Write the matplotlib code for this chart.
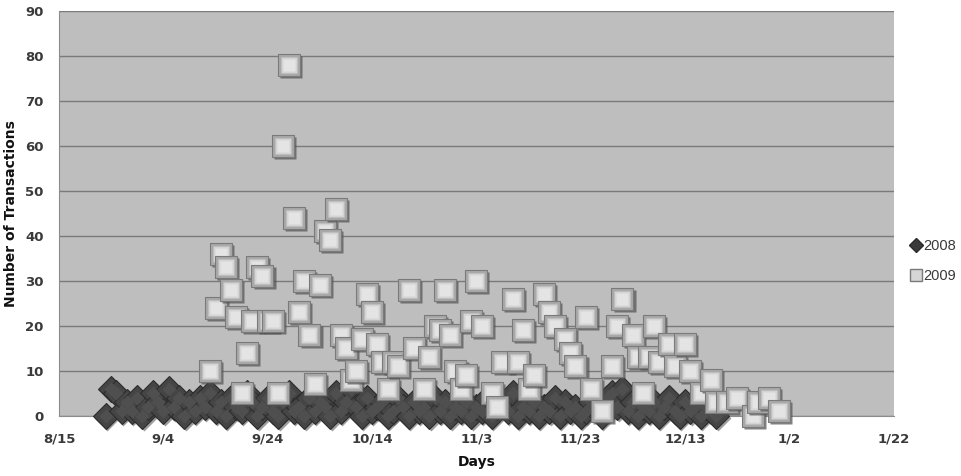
import numpy as np
import pandas as pd
import matplotlib
matplotlib.use('Agg')
import matplotlib.pyplot as plt
from matplotlib.lines import Line2D
from matplotlib.transforms import offset_copy

# 2008: one count per day, starting 8/24
start_2008 = '2009-08-24'
aug_2008 = [0, 6, 5, 1, 3, 1, 4, 0]
sep_2008 = [2, 5, 3, 1, 6, 2, 4, 0, 3, 1, 4, 2, 5, 1, 3, 0, 4, 2, 1, 5,
            3, 0, 2, 4, 1, 0, 3, 5, 1, 2]
oct_2008 = [0, 4, 1, 3, 2, 0, 5, 1, 3, 6, 2, 0, 4, 1, 2, 3, 0, 1, 4, 2,
            0, 3, 1, 2, 0, 4, 1, 3, 0, 2, 1]
nov_2008 = [3, 0, 2, 1, 4, 0, 2, 3, 1, 5, 0, 2, 1, 3, 0, 2, 1, 4, 0, 3,
            1, 2, 0, 1, 3, 2, 0, 4, 5, 2]
dec_2008 = [6, 1, 3, 0, 2, 1, 3, 0, 2, 4, 1, 0, 3, 1, 2, 0, 2, 1, 0]

# 2009: light squares
days_2009 = ['9/13', '9/14', '9/15', '9/16', '9/17', '9/18', '9/19', '9/20', '9/21', '9/22',
             '9/23', '9/24', '9/25', '9/26', '9/27', '9/28', '9/29', '9/30', '10/1', '10/2',
             '10/3', '10/4', '10/5', '10/6', '10/7', '10/8', '10/9', '10/10', '10/11', '10/12',
             '10/13', '10/14', '10/15', '10/16', '10/17', '10/18', '10/19', '10/21', '10/22', '10/24',
             '10/25', '10/26', '10/27', '10/28', '10/29', '10/30', '10/31', '11/1', '11/2', '11/3',
             '11/4', '11/6', '11/7', '11/8', '11/10', '11/11', '11/12', '11/13', '11/14', '11/16',
             '11/17', '11/18', '11/20', '11/21', '11/22', '11/24', '11/25', '11/27', '11/29', '11/30',
             '12/1', '12/3', '12/4', '12/5', '12/6', '12/7', '12/8', '12/10', '12/11', '12/13',
             '12/14', '12/16', '12/18', '12/19', '12/21', '12/23', '12/26', '12/27', '12/29', '12/31']
vals_2009 = [10, 24, 36, 33, 28, 22, 5, 14, 21, 33,
             31, 21, 21, 5, 60, 78, 44, 23, 30, 18,
             7, 29, 41, 39, 46, 18, 15, 8, 10, 17,
             27, 23, 16, 12, 6, 12, 11, 28, 15, 6,
             13, 20, 19, 28, 18, 10, 6, 9, 21, 30,
             20, 5, 2, 12, 26, 12, 19, 6, 9, 27,
             23, 20, 17, 14, 11, 22, 6, 1, 11, 20,
             26, 18, 13, 5, 13, 20, 12, 16, 11, 16,
             10, 5, 8, 3, 3, 4, 0, 3, 4, 1]

tick_start = '2009-08-15'
tick_end = '2010-01-22'
yticks = list(range(0, 91, 10))

vals_2008 = aug_2008 + sep_2008 + oct_2008 + nov_2008 + dec_2008
x_2008 = pd.date_range(start_2008, periods=len(vals_2008), freq='D')
x_2009 = pd.to_datetime(['2009/' + d for d in days_2009], format='%Y/%m/%d')
xticks = pd.date_range(tick_start, tick_end, freq='20D')
xlabels = [f'{d.month}/{d.day}' for d in xticks]

plt.rcParams['font.family'] = ['DejaVu Sans']
fig = plt.figure(figsize=(9.61, 4.76), dpi=100)
ax = fig.add_axes([0.0614, 0.1267, 0.8686, 0.8503])
ax.set_facecolor('#bebebe')
fig.patch.set_facecolor('white')

text_col = '#3a3a3a'

# 2008 diamonds, with a soft shadow
shadow_d = offset_copy(ax.transData, fig=fig, x=1.0, y=-1.5, units='points')
ax.plot(x_2008, vals_2008, 'D', ms=13, mfc='#5e5e5e', mec='none', alpha=0.6,
        transform=shadow_d, zorder=3, clip_on=False)
ax.plot(x_2008, vals_2008, 'D', ms=13, mfc='#454545', mec='#2c2c2c', mew=0.8,
        zorder=3.5, clip_on=False)
ax.plot(x_2008, vals_2008, 'D', ms=7, mfc='#4f4f4f', mec='none',
        zorder=3.6, clip_on=False)

# 2009 squares drawn one by one so each bevel stacks properly
shadow_s = offset_copy(ax.transData, fig=fig, x=1.5, y=-1.5, units='points')
for i, (xd, v) in enumerate(zip(x_2009, vals_2009)):
    z = 5 + i * 0.01
    ax.plot([xd], [v], 's', ms=16, mfc='#4f4f4f', mec='none', alpha=0.7,
            transform=shadow_s, zorder=z, clip_on=False)
    ax.plot([xd], [v], 's', ms=16, mfc='#a9a9a9', mec='#7a7a7a', mew=0.8,
            zorder=z + 0.002, clip_on=False)
    ax.plot([xd], [v], 's', ms=12, mfc='#d4d4d4', mec='none',
            zorder=z + 0.004, clip_on=False)
    ax.plot([xd], [v], 's', ms=9, mfc='#e4e4e4', mec='none',
            zorder=z + 0.006, clip_on=False)

ax.set_ylim(0, 90)
ax.set_yticks(yticks)
ax.set_xlim(xticks[0], xticks[-1])
ax.set_xticks(xticks)
ax.set_xticklabels(xlabels)
ax.yaxis.grid(True, color='#7a7a7a', linewidth=1.0)
ax.set_axisbelow(True)
for side in ['top', 'right']:
    ax.spines[side].set_visible(False)
ax.spines['left'].set_color('#8c8c8c')
ax.spines['bottom'].set_color('#8c8c8c')
ax.tick_params(axis='both', length=0, labelsize=9.5, labelcolor=text_col)
ax.tick_params(axis='y', pad=11)
ax.tick_params(axis='x', pad=12)
for lab in ax.get_xticklabels() + ax.get_yticklabels():
    lab.set_fontweight('bold')

ax.set_xlabel('Days', fontsize=10, fontweight='bold', color='#111111', labelpad=7)
ax.set_ylabel('Number of Transactions', fontsize=10, fontweight='bold',
              color='#111111', labelpad=5)

handles = [
    Line2D([], [], ls='none', marker='D', ms=7, mfc='#3a3a3a', mec='#2a2a2a'),
    Line2D([], [], ls='none', marker='s', ms=9, mfc='#d6d6d6', mec='#7a7a7a'),
]
leg = ax.legend(handles, ['2008', '2009'], loc='center left',
                bbox_to_anchor=(1.014, 0.382), frameon=False,
                prop={'family': 'Liberation Sans', 'size': 10.5},
                handlelength=0.7, handletextpad=0.15, labelspacing=1.15,
                borderaxespad=0)
for t in leg.get_texts():
    t.set_color(text_col)

fig.savefig('out.png', dpi=100)
